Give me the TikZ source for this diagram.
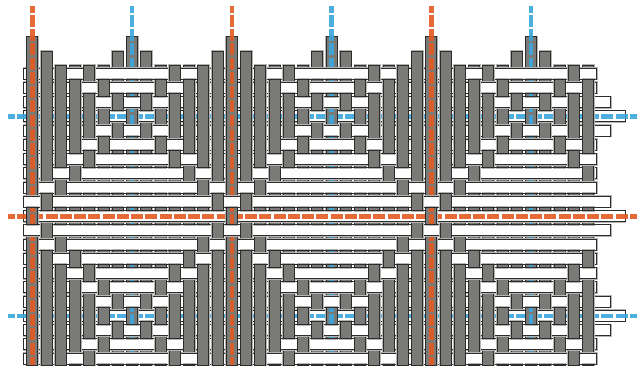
\documentclass[tikz,border=0pt]{standalone}
\definecolor{barfill}{HTML}{7A7A77}
\definecolor{barline}{HTML}{2C2C2C}
\definecolor{barhalo}{HTML}{B4B4B2}
\definecolor{wireO}{HTML}{E35A22}
\definecolor{wireB}{HTML}{39A7DC}
\tikzset{
  halo/.style={preaction={draw=barhalo,line width=2bp}},
  colbar/.style={fill=barfill,draw=barline,line width=1bp,halo},
  rowbar/.style={fill=white,draw=barline,line width=1bp,halo},
  wire/.style={line width=4.6bp,draw opacity=.9,dash pattern=on 12.05bp off 2.2bp,dash phase=5.45bp},
}
\newcommand{\rowy}[1]{\pgfmathsetmacro{\ry}{216.2+14.25*(#1)}}
\newcommand{\colx}[1]{\pgfmathsetmacro{\cx}{32.4+14.25*(#1)}}
\newcommand{\rowwire}[1]{%
  \ifnum#1=0 \draw[wire,draw=wireO] (8.3,\ry) -- (637,\ry);\fi
  \ifnum#1=-7 \draw[wire,draw=wireB] (8.3,\ry) -- (637,\ry);\fi
  \ifnum#1=7 \draw[wire,draw=wireB] (8.3,\ry) -- (637,\ry);\fi
}
\begin{document}
\begin{tikzpicture}[x=1bp,y=-1bp]
\useasboundingbox (0,0) rectangle (637,368);
% rows
\foreach \k in {-10,...,10}{
  \rowy{\k}
  \pgfmathtruncatemacro{\ka}{abs(\k)}
  \pgfmathtruncatemacro{\w}{abs(\ka-7)}
  \pgfmathsetmacro{\ext}{\w==0 ? 36.9 : (\w==1 ? 22.65 : 8.4)}
  \ifnum\ka=0 \pgfmathsetmacro{\ext}{36.9}\fi
  \ifnum\ka=1 \pgfmathsetmacro{\ext}{22.65}\fi
  \draw[rowbar] (23.8,\ry-5.5) rectangle (588.15+\ext,\ry+5.5);
  \rowwire{\k}
}
% columns
\foreach \i in {0,...,39}{
  \colx{\i}
  \pgfmathtruncatemacro{\m}{mod(\i,7)}
  \pgfmathtruncatemacro{\d}{min(\m,7-\m)}
  \pgfmathsetmacro{\tp}{\d==0 ? 36.9 : (\d==1 ? 51.15 : 65.4)}
  \draw[colbar] (\cx-5.5,\tp) rectangle (\cx+5.5,365.3);
  \pgfmathtruncatemacro{\mm}{mod(\i,14)}
  \ifnum\mm=0 \draw[wire,draw=wireO] (\cx,6) -- (\cx,365.3);\fi
  \ifnum\mm=7 \draw[wire,draw=wireB] (\cx,6) -- (\cx,365.3);\fi
}
% rows passing over columns
\foreach \k in {-10,...,10}{
  \rowy{\k}
  \pgfmathtruncatemacro{\w}{abs(abs(\k)-7)}
  \foreach \i in {0,...,39}{
    \colx{\i}
    \pgfmathtruncatemacro{\u}{abs(mod(\i,14)-7)}
    \pgfmathtruncatemacro{\over}{(\u<\w || \u==\w+1) ? 1 : 0}
    \ifnum\over=1
      \pgfmathsetmacro{\pl}{floor(\cx-6.1)}
      \pgfmathsetmacro{\pr}{ceil(\cx+6.1)}
      \fill[white] (\pl,\ry-5.5) rectangle (\pr,\ry+5.5);
      \draw[barhalo,line width=2bp] (\pl,\ry-5.5) -- (\pr,\ry-5.5)
        (\pl,\ry+5.5) -- (\pr,\ry+5.5);
      \draw[barline,line width=1bp] (\pl,\ry-5.5) -- (\pr,\ry-5.5)
        (\pl,\ry+5.5) -- (\pr,\ry+5.5);
      \begin{scope}
        \clip (\pl,\ry-5.5) rectangle (\pr,\ry+5.5);
        \rowwire{\k}
      \end{scope}
    \fi
  }
}
\end{tikzpicture}
\end{document}
